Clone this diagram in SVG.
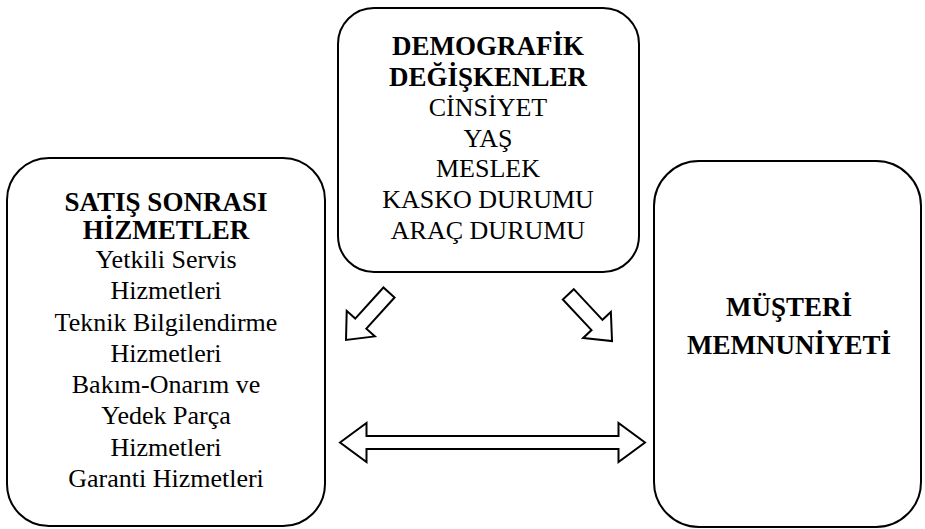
<svg xmlns="http://www.w3.org/2000/svg" width="925" height="529" viewBox="0 0 925 529">
<style>
.box{fill:#fff;stroke:#000;stroke-width:2}
.arr{fill:#fff;stroke:#000;stroke-width:2;stroke-linejoin:miter}
text{font-family:"Liberation Serif","Times New Roman",serif;font-size:26px;text-anchor:middle;fill:#000}
.b{font-weight:bold;font-size:27px}
</style>
<rect width="925" height="529" fill="#fff"/>
<g id="demografik">
<rect class="box" x="338" y="8" width="301" height="264" rx="36" ry="36"/>
<text class="b" x="488" y="55">DEMOGRAFİK</text>
<text class="b" x="488" y="85.5">DEĞİŞKENLER</text>
<text x="488" y="116">CİNSİYET</text>
<text x="488" y="146.5">YAŞ</text>
<text x="488" y="177">MESLEK</text>
<text x="488" y="208">KASKO DURUMU</text>
<text x="488" y="238.5">ARAÇ DURUMU</text>
</g>
<g id="satis">
<rect class="box" x="7" y="158" width="318" height="368" rx="42" ry="42"/>
<text class="b" x="166" y="210.5">SATIŞ SONRASI</text>
<text class="b" x="166" y="239">HİZMETLER</text>
<text x="166" y="268">Yetkili Servis</text>
<text x="166" y="299">Hizmetleri</text>
<text x="166" y="330.5">Teknik Bilgilendirme</text>
<text x="166" y="361.5">Hizmetleri</text>
<text x="166" y="392.5">Bakım-Onarım ve</text>
<text x="166" y="424">Yedek Parça</text>
<text x="166" y="455.5">Hizmetleri</text>
<text x="166" y="486.5">Garanti Hizmetleri</text>
</g>
<g id="memnuniyet">
<rect class="box" x="654" y="161" width="267" height="366" rx="45" ry="45"/>
<text class="b" x="789" y="315.5">MÜŞTERİ</text>
<text class="b" x="789" y="354">MEMNUNİYETİ</text>
</g>
<g id="connectors">
<path class="arr" transform="translate(389,292.5) rotate(132.2)" d="M0,-7.5 H42 V-19 L64,0 L42,19 V7.5 H0 Z"/>
<path class="arr" transform="translate(568.3,294.3) rotate(46.9)" d="M0,-7.5 H42 V-19 L64,0 L42,19 V7.5 H0 Z"/>
<path class="arr" d="M340,442.5 L366.5,423 V436 H618.5 V423 L645,442.5 L618.5,462 V449 H366.5 V462 Z"/>
</g>
</svg>
